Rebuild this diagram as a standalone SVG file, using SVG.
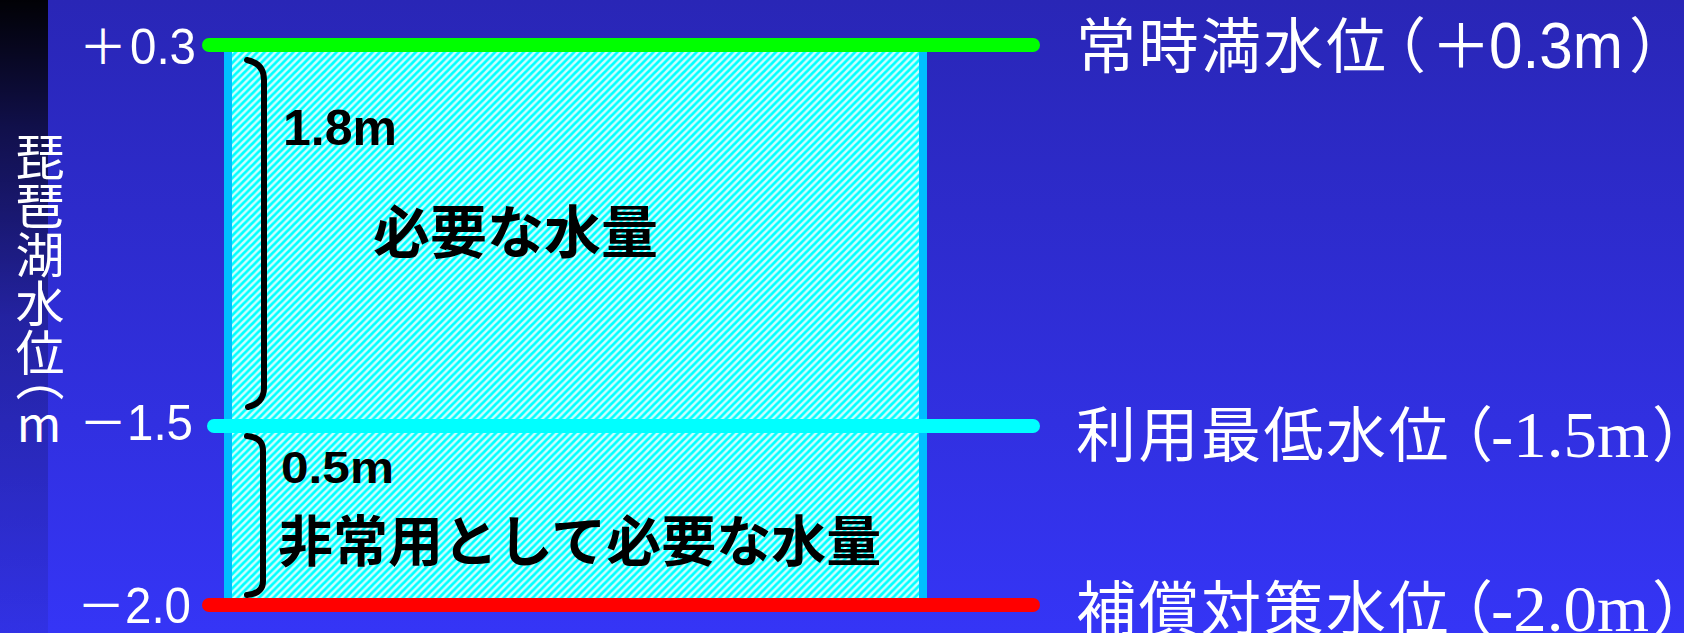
<svg xmlns="http://www.w3.org/2000/svg" width="1684" height="633" viewBox="0 0 1684 633">
  <style>
    .wlab { fill: #ffffff; font-family: "Noto Sans CJK JP", "Liberation Sans", sans-serif; }
    .lnum { fill: #ffffff; font-family: "Liberation Sans", "Noto Sans CJK JP", sans-serif; font-size: 50px; }
    .lsign { fill: #ffffff; font-family: "Noto Sans CJK JP", sans-serif; font-size: 48px; }
    .rjp { fill: #ffffff; font-family: "Noto Sans CJK JP", sans-serif; font-size: 60px; letter-spacing: 2.5px; }
    .rparen { fill: #ffffff; font-family: "Noto Sans CJK JP", sans-serif; font-size: 60px; }
    .rsans { fill: #ffffff; font-family: "Liberation Sans", sans-serif; font-size: 64px; }
    .rserif { fill: #ffffff; font-family: "Liberation Serif", serif; font-size: 66px; }
    .bnum { fill: #000000; font-family: "Liberation Sans", sans-serif; font-weight: bold; }
    .bjp { fill: #000000; font-family: "Noto Sans CJK JP", sans-serif; font-weight: bold; }
    .brace { fill: none; stroke: #000000; stroke-width: 6; stroke-linecap: round; stroke-linejoin: round; }
    .level { stroke-width: 14; stroke-linecap: round; fill: none; }
    .vert { writing-mode: vertical-rl; text-orientation: mixed; }
  </style>
  <defs>
    <linearGradient id="bg" x1="0" y1="0" x2="0" y2="1">
      <stop offset="0" stop-color="#2926b6"/>
      <stop offset="1" stop-color="#3535f6"/>
    </linearGradient>
    <linearGradient id="band" x1="0" y1="0" x2="0" y2="1">
      <stop offset="0" stop-color="#000000" stop-opacity="0.97"/>
      <stop offset="0.2" stop-color="#000000" stop-opacity="0.62"/>
      <stop offset="0.5" stop-color="#000000" stop-opacity="0.25"/>
      <stop offset="1" stop-color="#000000" stop-opacity="0.07"/>
    </linearGradient>
    <pattern id="hatch" patternUnits="userSpaceOnUse" width="7.2" height="7.2">
      <rect width="7.2" height="7.2" fill="#ccffff"/>
      <path d="M-1,8.2 L8.2,-1 M-1,1 L1,-1 M6.2,8.2 L8.2,6.2" stroke="#00ffff" stroke-width="2.7"/>
    </pattern>
  </defs>

  <g id="background">
    <rect x="0" y="0" width="1684" height="633" fill="url(#bg)"/>
    <rect x="0" y="0" width="48" height="633" fill="url(#band)"/>
  </g>

  <g id="axis-title">
    <text class="wlab vert" x="40" y="132" font-size="49">琵琶湖水位</text>
    <text class="wlab vert" x="40" y="352" font-size="49">（</text>
    <text class="wlab" x="39" y="442" font-size="48" text-anchor="middle">m</text>
  </g>

  <g id="tank">
    <rect x="228" y="48" width="695" height="554" fill="url(#hatch)" stroke="#00bfff" stroke-width="8"/>
  </g>

  <g id="connectors">
    <line id="level-full" class="level" x1="209" y1="45" x2="1033" y2="45" stroke="#00ff00"/>
    <line id="level-min" class="level" x1="214" y1="426" x2="1033" y2="426" stroke="#00ffff"/>
    <line id="level-comp" class="level" x1="209" y1="605" x2="1033" y2="605" stroke="#ff0000"/>
    <path id="brace-upper" class="brace" d="M247,60 C257,62 264,68 264,80 L264,388 C264,399 257,405 248,407"/>
    <path id="brace-lower" class="brace" d="M247,436 C257,437 263,441 263,451 L263,581 C263,590 257,594 247,595"/>
  </g>

  <g id="left-labels">
    <g id="lab-plus03">
      <text class="lsign" x="79" y="64">＋</text>
      <text class="lnum" x="130" y="64" textLength="66" lengthAdjust="spacingAndGlyphs">0.3</text>
    </g>
    <g id="lab-minus15">
      <text class="lsign" x="79" y="440">－</text>
      <text class="lnum" x="127" y="440" textLength="66" lengthAdjust="spacingAndGlyphs">1.5</text>
    </g>
    <g id="lab-minus20">
      <text class="lsign" x="77" y="623">－</text>
      <text class="lnum" x="125" y="623" textLength="66" lengthAdjust="spacingAndGlyphs">2.0</text>
    </g>
  </g>

  <g id="inner-labels">
    <text id="t-18m" class="bnum" x="283" y="145" font-size="50">1.8m</text>
    <text id="t-need" class="bjp" x="373" y="253" font-size="57">必要な水量</text>
    <text id="t-05m" class="bnum" x="281" y="483" font-size="44" textLength="113" lengthAdjust="spacingAndGlyphs">0.5m</text>
    <text id="t-emerg" class="bjp" x="278" y="561" font-size="55">非常用として必要な水量</text>
  </g>

  <g id="right-labels">
    <g id="r-full">
      <text class="rjp" x="1076" y="68">常時満水位</text>
      <text class="rparen" x="1366" y="68">（</text>
      <text class="rparen" x="1431" y="68" font-size="55">＋</text>
      <text class="rsans" x="1489" y="68" textLength="134" lengthAdjust="spacingAndGlyphs">0.3m</text>
      <text class="rparen" x="1629" y="68">）</text>
    </g>
    <g id="r-min">
      <text class="rjp" x="1076" y="457">利用最低水位</text>
      <text class="rparen" x="1433" y="457">（</text>
      <text class="rserif" x="1491" y="457" textLength="158" lengthAdjust="spacingAndGlyphs">-1.5m</text>
      <text class="rparen" x="1652" y="457">）</text>
    </g>
    <g id="r-comp">
      <text class="rjp" x="1076" y="631">補償対策水位</text>
      <text class="rparen" x="1433" y="631">（</text>
      <text class="rserif" x="1491" y="631" textLength="158" lengthAdjust="spacingAndGlyphs">-2.0m</text>
      <text class="rparen" x="1652" y="631">）</text>
    </g>
  </g>
</svg>
